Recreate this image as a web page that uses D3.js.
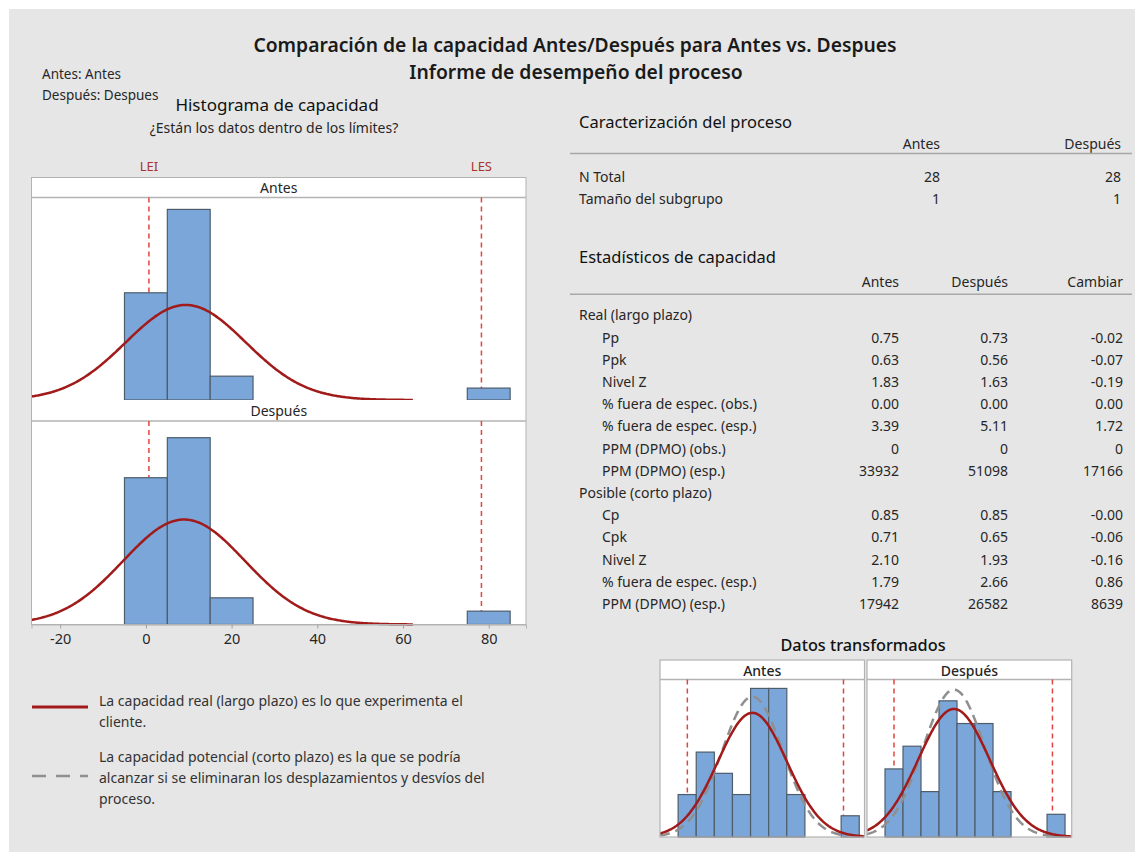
<!DOCTYPE html>
<meta charset="utf-8">
<script src="https://cdn.jsdelivr.net/npm/d3@7"></script>
<style>
  body { margin: 0; background: #fff; }
</style>
<div id="chart"></div>
<script>

// ---- data ----
var groups = ["Antes", "Después"];
var binCenters = [0, 10, 20, 80];
var antesCounts = [9, 16, 2, 1];
var despuesCounts = [11, 14, 2, 1];
var binWidth = 10;
var nTotal = 28;
var lei = 0.7, les = 78.3;
var fitMeans = [9.3, 8.9];
var fitSds = [14.0, 14.2];
var xTicks = [-20, 0, 20, 40, 60, 80];

// transformed data (bin index units, no axis shown)
var transBins = [0, 1, 2, 3, 4, 5, 6, 7, 8, 9];
var transAntesCounts = [2, 4, 3, 2, 7, 7, 2, 0, 0, 1];
var transDespuesCounts = [3, 4, 2, 6, 5, 5, 2, 0, 0, 1];
var transLsl = [0.51, 0.5];
var transUsl = [9.13, 9.3];
var transMeans = [4.1, 3.83];
var transSdLong = [1.91, 1.98];
var transSdShort = [1.69, 1.72];

// tables
var procRows = ["N Total", "Tamaño del subgrupo"];
var procAntes = ["28", "1"];
var procDespues = ["28", "1"];

var statLabels = ["Real (largo plazo)", "Pp", "Ppk", "Nivel Z", "% fuera de espec. (obs.)",
  "% fuera de espec. (esp.)", "PPM (DPMO) (obs.)", "PPM (DPMO) (esp.)", "Posible (corto plazo)",
  "Cp", "Cpk", "Nivel Z", "% fuera de espec. (esp.)", "PPM (DPMO) (esp.)"];
var statAntes = ["", "0.75", "0.63", "1.83", "0.00", "3.39", "0", "33932", "", "0.85", "0.71", "2.10", "1.79", "17942"];
var statDespues = ["", "0.73", "0.56", "1.63", "0.00", "5.11", "0", "51098", "", "0.85", "0.65", "1.93", "2.66", "26582"];
var statCambiar = ["", "-0.02", "-0.07", "-0.19", "0.00", "1.72", "0", "17166", "", "-0.00", "-0.06", "-0.16", "0.86", "8639"];

// ---- look ----
var W = 1135, H = 852;
var barFill = "#7ba6d9", barStroke = "#4f5d6b";
var curveRed = "#a11b1b", specRed = "#e2453f", frameGray = "#b3b3b3";
var textCol = "#262626";
var fontFam = "'Noto Sans', 'Open Sans', sans-serif";

var svg = d3.select("#chart").append("svg")
  .attr("width", W).attr("height", H)
  .style("font-family", fontFam);

svg.append("rect").attr("width", W).attr("height", H).attr("fill", "#fff");
svg.append("rect").attr("x", 9).attr("y", 9).attr("width", W - 9).attr("height", H - 9).attr("fill", "#e6e6e6");

function txt(x, y, s, size, anchor, weight, fill) {
  return svg.append("text").attr("x", x).attr("y", y).attr("dy", "0.35em")
    .attr("text-anchor", anchor || "start")
    .style("font-size", size + "px")
    .style("font-weight", weight || 400)
    .attr("fill", fill || textCol)
    .text(s);
}

// titles
txt(575, 45, "Comparación de la capacidad Antes/Después para Antes vs. Despues", 19.3, "middle", 600, "#1a1a1a");
txt(576, 72, "Informe de desempeño del proceso", 19.3, "middle", 600, "#1a1a1a");
txt(42, 74, "Antes: Antes", 13.5);
txt(42, 95, "Después: Despues", 13.5);
txt(277, 105, "Histograma de capacidad", 17, "middle", 400, "#111");
txt(274, 128, "¿Están los datos dentro de los límites?", 14, "middle");

function normalPdf(x, m, s) {
  return Math.exp(-0.5 * Math.pow((x - m) / s, 2)) / (s * Math.sqrt(2 * Math.PI));
}

// ---- main capability histogram ----
var x = d3.scaleLinear().domain([-26.7, 88.7]).range([31.5, 526]);
var boxTop = 177.5, boxBottom = 624.5;
var panels = [
  {strip: [177.5, 197.5], plot: [197.5, 400], counts: antesCounts, ymax: 17.0},
  {strip: [400, 421], plot: [421, 624.5], counts: despuesCounts, ymax: 15.25}
];

txt(x(lei), 166, "LEI", 13, "middle", 400, "#a8322f");
txt(x(les), 166, "LES", 13, "middle", 400, "#a8322f");

panels.forEach(function(p, i) {
  var g = svg.append("g");
  g.append("rect").attr("x", x.range()[0]).attr("y", p.strip[0])
    .attr("width", x.range()[1] - x.range()[0]).attr("height", p.plot[1] - p.strip[0])
    .attr("fill", "#fff");
  g.append("line").attr("x1", x.range()[0]).attr("x2", x.range()[1])
    .attr("y1", p.strip[1]).attr("y2", p.strip[1])
    .attr("stroke", frameGray).attr("stroke-width", 1.5);
  g.append("text").attr("x", (x.range()[0] + x.range()[1]) / 2).attr("y", (p.strip[0] + p.strip[1]) / 2 + 1)
    .attr("dy", "0.35em").attr("text-anchor", "middle").style("font-size", "14px")
    .attr("fill", textCol).text(groups[i]);

  var y = d3.scaleLinear().domain([0, p.ymax]).range([p.plot[1], p.plot[0]]);

  // spec limits (behind bars)
  g.selectAll("line.spec").data([lei, les]).enter().append("line")
    .attr("x1", function(d) { return x(d); }).attr("x2", function(d) { return x(d); })
    .attr("y1", p.plot[0]).attr("y2", p.plot[1])
    .attr("stroke", specRed).attr("stroke-width", 1.5).attr("stroke-dasharray", "5,4");

  g.selectAll("rect.bar").data(binCenters).enter().append("rect")
    .attr("x", function(d) { return x(d - binWidth / 2); })
    .attr("width", function(d) { return x(d + binWidth / 2) - x(d - binWidth / 2); })
    .attr("y", function(d, j) { return y(p.counts[j]); })
    .attr("height", function(d, j) { return y(0) - y(p.counts[j]); })
    .attr("fill", barFill).attr("stroke", barStroke).attr("stroke-width", 1.2);

  var pts = d3.range(x.domain()[0], 62.4, 0.25);
  var line = d3.line()
    .x(function(d) { return x(d); })
    .y(function(d) { return y(nTotal * binWidth * normalPdf(d, fitMeans[i], fitSds[i])); });
  g.append("path").datum(pts).attr("d", line)
    .attr("fill", "none").attr("stroke", curveRed).attr("stroke-width", 2.5);
});

svg.append("rect").attr("x", x.range()[0]).attr("y", boxTop)
  .attr("width", x.range()[1] - x.range()[0]).attr("height", boxBottom - boxTop)
  .attr("fill", "none").attr("stroke", frameGray).attr("stroke-width", 1);

var xAxis = svg.append("g").attr("transform", "translate(0," + boxBottom + ")")
  .call(d3.axisBottom(x).tickValues(xTicks).tickSize(4).tickPadding(5)
    .tickFormat(function(d) { return String(d); }));
xAxis.select(".domain").attr("stroke", frameGray);
xAxis.selectAll(".tick line").attr("stroke", "#a0a0a0");
xAxis.selectAll("text").style("font-size", "14.5px").attr("fill", textCol)
  .style("font-family", fontFam);

// ---- legend ----
svg.append("line").attr("x1", 32).attr("x2", 88).attr("y1", 707).attr("y2", 707)
  .attr("stroke", curveRed).attr("stroke-width", 3);
svg.append("line").attr("x1", 32).attr("x2", 88).attr("y1", 776).attr("y2", 776)
  .attr("stroke", "#8f8f8f").attr("stroke-width", 2.5).attr("stroke-dasharray", "14,10");
txt(99, 701, "La capacidad real (largo plazo) es lo que experimenta el", 14, "start", 400, "#333");
txt(99, 722, "cliente.", 14, "start", 400, "#333");
txt(99, 757, "La capacidad potencial (corto plazo) es la que se podría", 14, "start", 400, "#333");
txt(99, 778, "alcanzar si se eliminaran los desplazamientos y desvíos del", 14, "start", 400, "#333");
txt(99, 799, "proceso.", 14, "start", 400, "#333");

// ---- tables ----
txt(579, 122, "Caracterización del proceso", 16.5, "start", 400, "#111");
txt(940, 144, "Antes", 14, "end");
txt(1121, 144, "Después", 14, "end");
svg.append("line").attr("x1", 570).attr("x2", 1132).attr("y1", 153.5).attr("y2", 153.5)
  .attr("stroke", "#a8a8a8").attr("stroke-width", 1.5);
var procY = d3.scalePoint().domain(procRows).range([177.3, 199.3]);
procRows.forEach(function(r, i) {
  txt(579, procY(r), r, 14);
  txt(940, procY(r), procAntes[i], 14, "end");
  txt(1121, procY(r), procDespues[i], 14, "end");
});

txt(579, 257, "Estadísticos de capacidad", 16.5, "start", 400, "#111");
txt(899, 282, "Antes", 14, "end");
txt(1008, 282, "Después", 14, "end");
txt(1123, 282, "Cambiar", 14, "end");
svg.append("line").attr("x1", 570).attr("x2", 1132).attr("y1", 294.3).attr("y2", 294.3)
  .attr("stroke", "#a8a8a8").attr("stroke-width", 1.5);
var statY = d3.scalePoint().domain(d3.range(statLabels.length)).range([315.5, 604]);
statLabels.forEach(function(r, i) {
  var isGroup = statAntes[i] === "";
  txt(isGroup ? 579 : 602, statY(i), r, 14);
  txt(899, statY(i), statAntes[i], 14, "end");
  txt(1008, statY(i), statDespues[i], 14, "end");
  txt(1123, statY(i), statCambiar[i], 14, "end");
});

// ---- transformed data ----
txt(863, 645, "Datos transformados", 16.3, "middle", 500, "#111");
var tTop = 660, tStrip = 679.5, tBottom = 837;
var tPanels = [
  {range: [660, 864.5], domain: [-1, 10.29], counts: transAntesCounts, ymax: 7.42},
  {range: [867, 1071.7], domain: [-1, 10.37], counts: transDespuesCounts, ymax: 6.94}
];
tPanels.forEach(function(p, i) {
  var tx = d3.scaleLinear().domain(p.domain).range(p.range);
  var ty = d3.scaleLinear().domain([0, p.ymax]).range([tBottom, tStrip]);
  var g = svg.append("g");
  g.append("rect").attr("x", p.range[0]).attr("y", tTop)
    .attr("width", p.range[1] - p.range[0]).attr("height", tBottom - tTop)
    .attr("fill", "#fff");
  g.append("text").attr("x", (p.range[0] + p.range[1]) / 2).attr("y", (tTop + tStrip) / 2 + 1)
    .attr("dy", "0.35em").attr("text-anchor", "middle").style("font-size", "14px")
    .style("font-weight", 500).attr("fill", textCol).text(groups[i]);
  g.append("line").attr("x1", p.range[0]).attr("x2", p.range[1])
    .attr("y1", tStrip).attr("y2", tStrip).attr("stroke", frameGray).attr("stroke-width", 1.5);

  g.append("clipPath").attr("id", "clip" + i).append("rect")
    .attr("x", p.range[0]).attr("y", tStrip).attr("width", p.range[1] - p.range[0])
    .attr("height", tBottom - tStrip + 2);

  g.selectAll("line.spec").data([transLsl[i], transUsl[i]]).enter().append("line")
    .attr("x1", function(d) { return tx(d); }).attr("x2", function(d) { return tx(d); })
    .attr("y1", tStrip).attr("y2", tBottom)
    .attr("stroke", specRed).attr("stroke-width", 1.5).attr("stroke-dasharray", "5,4");

  g.selectAll("rect.bar").data(transBins).enter().append("rect")
    .attr("x", function(d) { return tx(d); })
    .attr("width", function(d) { return tx(d + 1) - tx(d); })
    .attr("y", function(d, j) { return ty(p.counts[j]); })
    .attr("height", function(d, j) { return ty(0) - ty(p.counts[j]); })
    .attr("fill", barFill).attr("stroke", barStroke).attr("stroke-width", 1.2);

  var pts = d3.range(p.domain[0], p.domain[1] + 0.01, 0.05);
  var shortLine = d3.line().x(function(d) { return tx(d); })
    .y(function(d) { return ty(nTotal * normalPdf(d, transMeans[i], transSdShort[i])); });
  var longLine = d3.line().x(function(d) { return tx(d); })
    .y(function(d) { return ty(nTotal * normalPdf(d, transMeans[i], transSdLong[i])); });
  g.append("path").datum(pts).attr("d", shortLine).attr("clip-path", "url(#clip" + i + ")")
    .attr("fill", "none").attr("stroke", "#8f8f8f").attr("stroke-width", 2.5)
    .attr("stroke-dasharray", "10,6");
  g.append("path").datum(pts).attr("d", longLine).attr("clip-path", "url(#clip" + i + ")")
    .attr("fill", "none").attr("stroke", curveRed).attr("stroke-width", 2.5);

  g.append("rect").attr("x", p.range[0]).attr("y", tTop)
    .attr("width", p.range[1] - p.range[0]).attr("height", tBottom - tTop)
    .attr("fill", "none").attr("stroke", frameGray).attr("stroke-width", 1.2);
});

</script>
